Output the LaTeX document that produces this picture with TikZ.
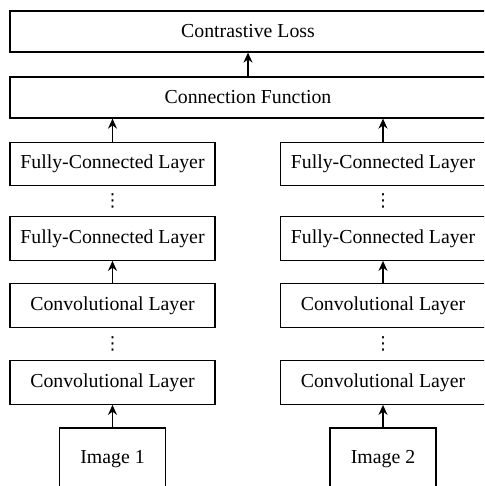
\documentclass[tikz,border=0pt]{standalone}
\usepackage{fontspec}
\setmainfont{Liberation Serif}
\newfontfamily\tnr{Liberation Serif}
\newfontfamily\dvsans{DejaVu Sans}
\usetikzlibrary{arrows.meta,calc}
\begin{document}
\begin{tikzpicture}[x=1pt,y=-1pt,
  box/.style={draw,line width=1.3pt,inner sep=0pt,font=\tnr\fontsize{19.8}{22}\selectfont},
  wide/.style={box,minimum width=476pt,minimum height=41pt},
  layer/.style={box,minimum width=205pt,minimum height=43.5pt},
  imgbox/.style={box,minimum width=106pt,minimum height=62pt},
  arr/.style={line width=1.3pt,-{Stealth[length=10pt,width=9pt]}},
  dotsnode/.style={inner sep=0pt,font=\dvsans\fontsize{18}{20}\selectfont}]
\useasboundingbox (0,0) rectangle (484,486);
\clip (0,0) rectangle (484,486);
\node[wide] (cl) at (248,31.5) {Contrastive Loss};
\node[wide] (cf) at (248,97.5) {Connection Function};
\foreach \s/\cx/\n in {l/112.5/1, r/383/2}{
  \node[layer] (fca\s) at (\cx,164) {Fully-Connected Layer};
  \node[layer] (fcb\s) at (\cx,238.5) {Fully-Connected Layer};
  \node[layer] (cva\s) at (\cx,305.5) {Convolutional Layer};
  \node[layer] (cvb\s) at (\cx,382.5) {Convolutional Layer};
  \node[imgbox] (img\s) at (\cx,459) {Image \n};
  \node[dotsnode] (dfc\s) at ($(fca\s.south)!0.5!(fcb\s.north)$) {⋮};
  \node[dotsnode] (dcv\s) at ($(cva\s.south)!0.5!(cvb\s.north)$) {⋮};
  \draw[arr] (img\s.north) -- (cvb\s.south);
  \draw[arr] (cva\s.north) -- (fcb\s.south);
  \draw[arr] (fca\s.north) -- (fca\s.north |- cf.south);
}
\draw[arr] (cf.north) -- (cl.south);
\end{tikzpicture}
\end{document}
